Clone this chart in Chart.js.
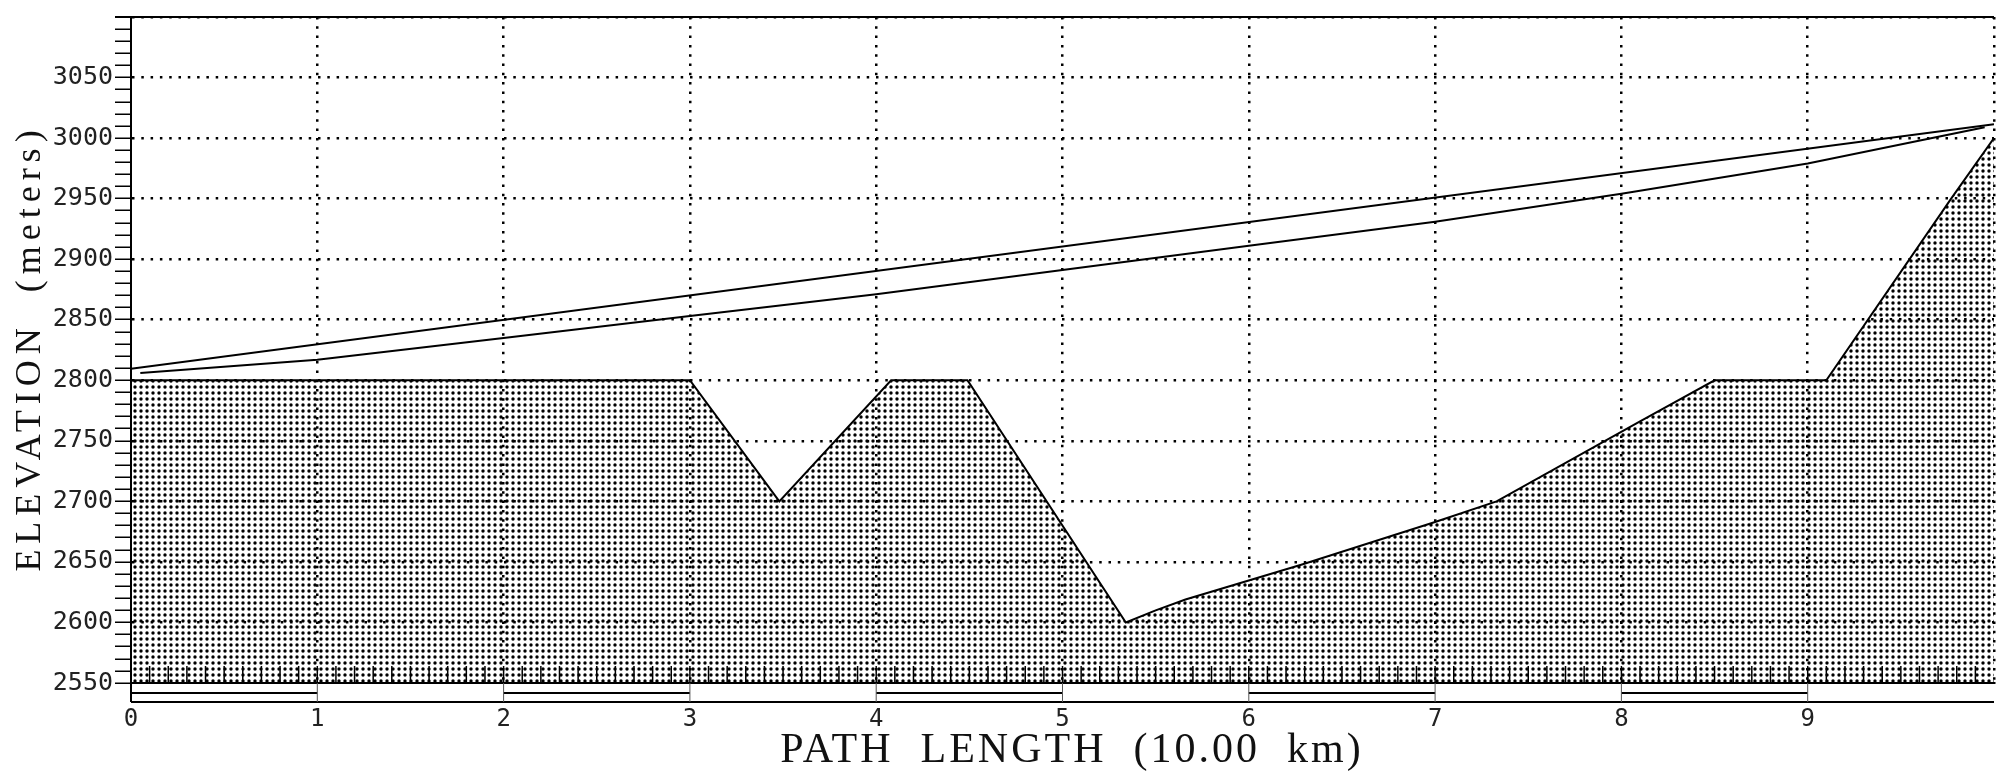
<!DOCTYPE html>
<html>
<head>
<meta charset="utf-8">
<title>Path profile</title>
<script src="https://cdn.jsdelivr.net/npm/chart.js@4/dist/chart.umd.min.js"></script>
<style>
  html, body { margin: 0; padding: 0; background: #fff; overflow: hidden; }
  canvas { display: block; }
</style>
</head>
<body>
<canvas id="profile" width="2016" height="772"></canvas>
<script>
// ground profile along the path
const terrainKm = [0, 3.0, 3.48, 4.08, 4.49, 5.34, 5.5, 5.66, 6.29, 7.0, 7.33, 8.1, 8.5, 9.1, 9.77, 10];
const terrainElev = [2800, 2800, 2700, 2800, 2800, 2600, 2610, 2619, 2648, 2683, 2700, 2766, 2800, 2800, 2950, 3000];

// straight line of sight
const losKm = [0, 10];
const losElev = [2809.5, 3011.5];

// lower (curved) clearance line
const clearKm = [0.05, 1, 2, 3, 4, 5, 6, 7, 8, 9, 9.95];
const clearElev = [2806, 2817, 2835, 2853, 2871, 2891, 2911, 2931, 2954, 2979, 3009];

const kmLabels = [0, 1, 2, 3, 4, 5, 6, 7, 8, 9];
const elevLabels = [2550, 2600, 2650, 2700, 2750, 2800, 2850, 2900, 2950, 3000, 3050];

const yTitle = 'ELEVATION  (meters)';
const xTitle = 'PATH  LENGTH  (10.00  km)';

const toPoints = (xs, ys) => xs.map((x, i) => ({ x, y: ys[i] }));

// dotted fill like the plotter shading
const makeDots = () => {
  const tile = document.createElement('canvas');
  tile.width = 6;
  tile.height = 6;
  const t = tile.getContext('2d');
  t.fillStyle = '#000';
  t.beginPath();
  t.arc(3, 3, 1.7, 0, Math.PI * 2);
  t.fill();
  return document.getElementById('profile').getContext('2d').createPattern(tile, 'repeat');
};

const frame = {
  id: 'frame',
  afterDraw(chart) {
    const { ctx, chartArea: { left, right, top, bottom }, scales: { x } } = chart;
    const line = (x1, y1, x2, y2) => {
      ctx.beginPath();
      ctx.moveTo(x1, y1);
      ctx.lineTo(x2, y2);
      ctx.stroke();
    };
    ctx.save();
    ctx.strokeStyle = '#000';

    // top edge of the plot
    ctx.lineWidth = 2;
    line(left - 16, top, right, top);

    // small km ticks pointing up from the axis
    ctx.lineWidth = 1.5;
    for (let i = 1; i < 100; i++) {
      const px = x.getPixelForValue(i / 10);
      line(px, bottom, px, bottom - 17);
    }

    // alternating scale bar under the axis
    const barBottom = bottom + 19;
    const barMid = bottom + 10;
    ctx.lineWidth = 2;
    line(left, bottom, left, barBottom);
    line(left, barBottom, right, barBottom);
    for (let k = 0; k < 10; k += 2) {
      line(x.getPixelForValue(k), barMid, x.getPixelForValue(k + 1), barMid);
    }
    ctx.lineWidth = 1;
    ctx.strokeStyle = '#555';
    for (let k = 1; k < 10; k++) {
      const px = x.getPixelForValue(k);
      line(px, bottom, px, barBottom);
    }

    // axis titles
    ctx.fillStyle = '#111';
    ctx.textAlign = 'center';
    ctx.textBaseline = 'alphabetic';
    ctx.font = '42px "Liberation Serif"';
    ctx.letterSpacing = '3px';
    ctx.fillText(xTitle, 1072, 762);

    ctx.font = '36px "Liberation Serif"';
    ctx.letterSpacing = '6px';
    ctx.translate(40, 348);
    ctx.rotate(-Math.PI / 2);
    ctx.fillText(yTitle, 0, 0);
    ctx.restore();
  }
};

new Chart(document.getElementById('profile'), {
  type: 'line',
  data: {
    datasets: [
      {
        label: 'Terrain',
        data: toPoints(terrainKm, terrainElev),
        borderColor: '#000',
        borderWidth: 2,
        backgroundColor: makeDots(),
        fill: 'start',
        pointRadius: 0,
        tension: 0
      },
      {
        label: 'Line of sight',
        data: toPoints(losKm, losElev),
        borderColor: '#000',
        borderWidth: 2,
        fill: false,
        pointRadius: 0
      },
      {
        label: 'Clearance',
        data: toPoints(clearKm, clearElev),
        borderColor: '#000',
        borderWidth: 2,
        fill: false,
        pointRadius: 0,
        tension: 0
      }
    ]
  },
  options: {
    responsive: false,
    animation: false,
    devicePixelRatio: 1,
    layout: { padding: { top: 15, left: 0, right: 0, bottom: 0 } },
    plugins: {
      legend: { display: false },
      tooltip: { enabled: false }
    },
    scales: {
      x: {
        type: 'linear',
        min: 0,
        max: 10,
        afterFit: (s) => { s.height = 89; },
        ticks: {
          stepSize: 1,
          autoSkip: false,
          maxRotation: 0,
          padding: 22,
          color: '#222',
          font: { family: '"DejaVu Sans Mono"', size: 24 },
          callback: (v) => (kmLabels.includes(v) ? String(v) : '')
        },
        grid: {
          color: (ctx) => (ctx.tick && ctx.tick.value > 0 ? '#000' : 'transparent'),
          lineWidth: 2.5,
          drawTicks: false
        },
        border: { display: true, color: '#000', width: 2, dash: [2.5, 6.8] }
      },
      y: {
        type: 'linear',
        min: 2550,
        max: 3100,
        afterFit: (s) => { s.width = 131; },
        ticks: {
          stepSize: 10,
          autoSkip: false,
          padding: 2,
          color: '#222',
          font: { family: '"DejaVu Sans Mono"', size: 25 },
          callback: (v) => (elevLabels.includes(v) ? String(v) : '')
        },
        grid: {
          color: (ctx) => (ctx.tick && ctx.tick.value % 50 === 0 && ctx.tick.value > 2550 ? '#000' : 'transparent'),
          lineWidth: 2.5,
          tickLength: 16,
          tickColor: '#000',
          tickWidth: 1.5
        },
        border: { display: true, color: '#000', width: 2, dash: [2.5, 6.8] }
      }
    }
  },
  plugins: [frame]
});
</script>
</body>
</html>
